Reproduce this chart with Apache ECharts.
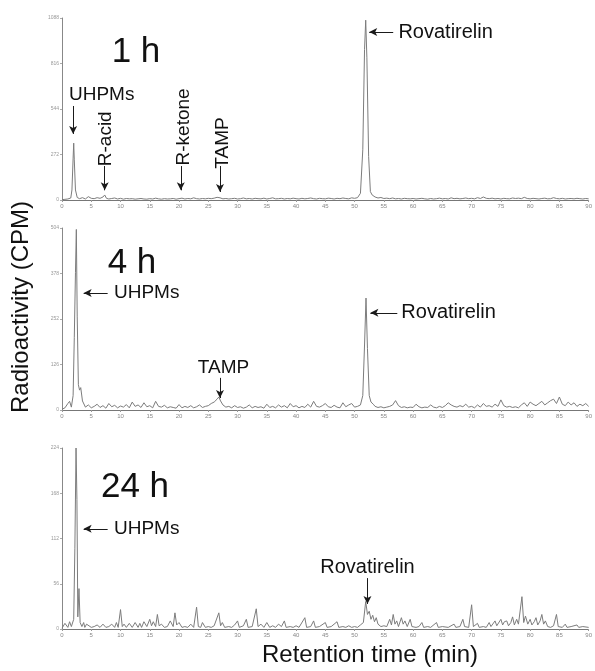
<!DOCTYPE html>
<html>
<head>
<meta charset="utf-8">
<script src="https://cdn.jsdelivr.net/npm/echarts@6/dist/echarts.min.js"></script>
<style>
html,body{margin:0;padding:0;background:#fff;}
#chart{width:595px;height:671px;}
</style>
</head>
<body>
<div id="chart"></div>
<script>
// Radio-HPLC chromatograms at three sampling times: [retention time (min), CPM]
const trace1h = [
[0,2],[0.5,4],[1,6],[1.5,12],[1.7,60],[1.9,250],[2.0,340],[2.1,240],[2.3,60],[2.6,15],[3,8],[3.5,14],[4,6],[4.5,20],[5,10],[5.5,8],[6,14],[6.5,10],[7,18],[7.3,30],[7.6,10],[8,6],[8.5,9],[9,12],[9.5,6],[10,10],[10.5,5],[11,9],[11.5,7],[12,8],[12.5,5],[13,7],[13.5,9],[14,6],[14.5,5],[15,8],[15.5,6],[16,11],[16.5,7],[17,5],[17.5,8],[18,6],[18.5,7],[19,9],[19.5,5],[20,8],[20.5,11],[21,6],[21.5,9],[22,7],[22.5,13],[23,8],[23.5,6],[24,9],[24.5,7],[25,10],[25.5,8],[26,11],[26.5,16],[27,13],[27.5,7],[28,9],[28.5,6],[29,8],[29.5,10],[30,6],[30.5,8],[31,12],[31.5,7],[32,9],[32.5,6],[33,10],[33.5,8],[34,7],[34.5,11],[35,6],[35.5,9],[36,13],[36.5,7],[37,8],[37.5,10],[38,6],[38.5,9],[39,7],[39.5,11],[40,8],[40.5,6],[41,10],[41.5,7],[42,9],[42.5,12],[43,8],[43.5,6],[44,10],[44.5,8],[45,7],[45.5,11],[46,9],[46.5,6],[47,10],[47.5,8],[48,12],[48.5,9],[49,7],[49.5,13],[50,10],[50.5,14],[51,40],[51.4,300],[51.7,900],[51.9,1075],[52.1,850],[52.4,260],[52.7,50],[53,30],[53.5,18],[54,12],[54.5,15],[55,9],[55.5,11],[56,8],[56.5,12],[57,7],[57.5,9],[58,6],[58.5,10],[59,8],[59.5,7],[60,9],[60.5,6],[61,8],[61.5,10],[62,7],[62.5,5],[63,9],[63.5,6],[64,8],[64.5,11],[65,7],[65.5,9],[66,6],[66.5,13],[67,8],[67.5,10],[68,7],[68.5,9],[69,12],[69.5,8],[70,10],[70.5,7],[71,14],[71.5,9],[72,18],[72.5,10],[73,8],[73.5,11],[74,7],[74.5,9],[75,6],[75.5,10],[76,8],[76.5,7],[77,12],[77.5,9],[78,11],[78.5,8],[79,16],[79.5,9],[80,7],[80.5,10],[81,8],[81.5,6],[82,9],[82.5,11],[83,7],[83.5,8],[84,14],[84.5,9],[85,7],[85.5,10],[86,6],[86.5,8],[87,9],[87.5,7],[88,10],[88.5,8],[89,6],[89.5,9],[90,7]
];
const trace4h = [
[0,2],[0.5,6],[1,18],[1.3,24],[1.6,8],[1.9,40],[2.1,200],[2.3,380],[2.45,500],[2.6,260],[2.8,70],[3.0,55],[3.2,62],[3.5,25],[4,8],[4.5,14],[5,6],[5.5,10],[6,16],[6.5,7],[7,12],[7.5,5],[8,18],[8.5,9],[9,13],[9.5,6],[10,11],[10.5,8],[11,15],[11.5,6],[12,22],[12.5,10],[13,14],[13.5,7],[14,20],[14.5,9],[15,12],[15.5,6],[16,24],[16.5,10],[17,8],[17.5,13],[18,6],[18.5,9],[19,7],[19.5,5],[20,15],[20.5,6],[21,10],[21.5,7],[22,12],[22.5,6],[23,9],[23.5,14],[24,7],[24.5,10],[25,12],[25.5,18],[26,22],[26.5,30],[26.8,36],[27.1,25],[27.5,14],[28,8],[28.5,10],[29,6],[29.5,12],[30,7],[30.5,9],[31,5],[31.5,8],[32,14],[32.5,6],[33,10],[33.5,7],[34,9],[34.5,5],[35,16],[35.5,7],[36,10],[36.5,6],[37,14],[37.5,8],[38,12],[38.5,6],[39,18],[39.5,9],[40,12],[40.5,6],[41,10],[41.5,7],[42,16],[42.5,8],[43,24],[43.5,10],[44,8],[44.5,12],[45,18],[45.5,9],[46,7],[46.5,13],[47,8],[47.5,6],[48,20],[48.5,9],[49,14],[49.5,18],[50,8],[50.5,10],[51,14],[51.4,40],[51.7,180],[51.95,310],[52.2,170],[52.5,40],[52.8,22],[53.2,16],[53.5,10],[54,7],[54.5,9],[55,6],[55.5,8],[56,10],[56.5,14],[57,26],[57.5,12],[58,7],[58.5,9],[59,6],[59.5,8],[60,7],[60.5,16],[61,9],[61.5,6],[62,8],[62.5,7],[63,14],[63.5,8],[64,6],[64.5,10],[65,7],[65.5,12],[66,20],[66.5,14],[67,10],[67.5,8],[68,12],[68.5,9],[69,16],[69.5,8],[70,10],[70.5,6],[71,14],[71.5,8],[72,18],[72.5,10],[73,12],[73.5,8],[74,16],[74.5,10],[75,28],[75.5,12],[76,8],[76.5,10],[77,7],[77.5,9],[78,6],[78.5,14],[79,20],[79.5,10],[80,22],[80.5,16],[81,12],[81.5,18],[82,24],[82.5,14],[83,20],[83.5,26],[84,30],[84.5,18],[85,36],[85.5,16],[86,12],[86.5,22],[87,14],[87.5,20],[88,10],[88.5,16],[89,12],[89.5,18],[90,10]
];
const trace24h = [
[0,1],[0.5,7],[1,2],[1.3,9],[1.6,3],[2.0,12],[2.2,100],[2.4,224],[2.55,160],[2.7,15],[2.9,50],[3.1,8],[3.4,3],[3.7,8],[3.9,2],[4.2,6],[4.5,7],[5,2],[5.5,3],[6,5],[6.5,2],[7,6],[7.5,2],[8,3],[8.5,6],[9,2],[9.3,8],[9.6,2],[10,24],[10.3,3],[10.6,6],[11,2],[11.5,7],[12,2],[12.5,8],[13,2],[13.3,7],[13.6,2],[14,9],[14.5,3],[15,12],[15.3,4],[15.6,9],[16,3],[16.3,18],[16.6,4],[17,6],[17.5,2],[18,3],[18.5,10],[19,3],[19.3,20],[19.6,5],[20,8],[20.5,2],[21,3],[21.5,2],[22,6],[22.5,2],[23,27],[23.3,3],[23.7,2],[24,8],[24.5,2],[25,3],[25.5,2],[26,4],[26.8,20],[27.1,4],[27.4,8],[27.8,2],[28.5,3],[29,2],[29.5,5],[30,10],[30.3,2],[31,4],[31.5,12],[31.8,2],[32.5,3],[33.2,25],[33.5,3],[34,6],[34.5,2],[35,8],[35.5,2],[36,4],[36.5,2],[37,6],[37.5,3],[38,10],[38.3,2],[39,3],[39.5,2],[40,4],[40.5,2],[41.5,14],[41.8,2],[42.5,3],[43,10],[43.3,2],[44,3],[45,8],[45.3,2],[46,3],[47,9],[47.3,2],[48,3],[48.5,2],[49,4],[49.5,2],[50,3],[50.5,2],[51,5],[51.5,8],[51.9,34],[52.2,18],[52.5,22],[52.8,12],[53.1,17],[53.4,9],[53.7,14],[54,6],[54.5,3],[55,4],[55.5,3],[56,12],[56.3,5],[56.6,18],[56.9,6],[57.2,10],[57.5,3],[58,14],[58.3,6],[58.6,10],[59,3],[59.5,12],[59.8,3],[60.5,2],[61,3],[61.5,8],[61.8,2],[62.5,3],[63,2],[64,8],[64.3,2],[65,3],[66,2],[67,6],[67.3,2],[68,3],[68.5,12],[68.8,3],[69.5,2],[70,30],[70.3,3],[71,7],[71.3,2],[72,3],[72.5,2],[73,8],[73.3,3],[74,10],[74.3,4],[75,12],[75.3,5],[75.6,9],[76,10],[76.3,4],[76.7,8],[77,15],[77.3,5],[77.7,12],[78,6],[78.6,40],[78.9,8],[79.2,16],[79.6,6],[80,12],[80.3,5],[80.7,9],[81,14],[81.3,5],[81.7,10],[82,18],[82.3,6],[82.6,10],[83,3],[83.5,2],[84,4],[84.5,18],[84.8,3],[85.5,2],[86,6],[86.3,2],[87,3],[88,5],[88.3,2],[89,3],[90,2]
];

// y-axis maxima (tick labels are quarters of these)
const yMax = [1088, 504, 224];
const panelNames = ['1 h', '4 h', '24 h'];
const xMin = 0, xMax = 90, xStep = 5;

const FONT = '"Liberation Sans", Arial, sans-serif';
const lineColor = '#7c7c7c';
const arrowColor = '#1a1a1a';

const grids = [
  {left: 62, right: 2, top: 18, height: 182},
  {left: 62, right: 2, top: 228, height: 182},
  {left: 62, right: 2, top: 448, height: 181}
];

function xAxisFor(i) {
  return {
    type: 'value', gridIndex: i, min: xMin, max: xMax, interval: xStep,
    axisLine: {show: true, onZero: false, lineStyle: {color: '#777', width: 1}},
    axisTick: {show: true, length: 2, lineStyle: {color: '#999'}},
    axisLabel: {fontSize: 6, color: '#888', margin: 3, fontFamily: FONT, showMaxLabel: true},
    splitLine: {show: false}
  };
}
function yAxisFor(i) {
  return {
    type: 'value', gridIndex: i, min: 0, max: yMax[i], interval: yMax[i] / 4,
    axisLine: {show: true, lineStyle: {color: '#888', width: 1}},
    axisTick: {show: true, length: 2, lineStyle: {color: '#aaa'}},
    axisLabel: {fontSize: 5, color: '#999', margin: 3, fontFamily: FONT, formatter: v => String(v)},
    splitLine: {show: false}
  };
}

// arrow helper: from [t1,v1] to [t2,v2] in data space
function arrow(a, b) {
  return [{coord: a, symbol: 'none'}, {coord: b, symbol: 'arrow'}];
}
// text label anchored at a data coordinate
function note(text, coord, opts) {
  return Object.assign({
    coord: coord, value: text, symbol: 'circle', symbolSize: 1,
    itemStyle: {color: 'rgba(0,0,0,0)'}
  }, opts || {});
}
const labelBase = {show: true, color: '#111', fontSize: 19, fontFamily: FONT, formatter: p => p.value};
const lab = o => ({label: Object.assign({}, labelBase, o)});

const arrows = [
  [arrow([1.9, 562], [1.9, 395]), arrow([7.3, 203], [7.3, 58]), arrow([20.3, 203], [20.3, 58]),
   arrow([27.0, 203], [27.0, 48]), arrow([56.6, 1004], [52.5, 1004])],
  [arrow([7.8, 324], [3.7, 324]), arrow([57.3, 269], [52.7, 269]), arrow([27.0, 89], [27.0, 33])],
  [arrow([7.8, 124], [3.7, 124]), arrow([52.2, 63], [52.2, 31])]
];
const notes = [
  [note('UHPMs', [1.1, 628], lab({position: 'right', distance: 0})),
   note('R-acid', [7.5, 366], lab({position: 'inside', rotate: 90})),
   note('R-ketone', [20.8, 437], lab({position: 'inside', rotate: 90})),
   note('TAMP', [27.5, 341], lab({position: 'inside', rotate: 90})),
   note('Rovatirelin', [57.4, 1004], lab({position: 'right', distance: 0, fontSize: 20}))],
  [note('UHPMs', [8.8, 324], lab({position: 'right', distance: 0})),
   note('Rovatirelin', [57.9, 269], lab({position: 'right', distance: 0, fontSize: 20})),
   note('TAMP', [27.6, 116], lab({position: 'inside'}))],
  [note('UHPMs', [8.8, 124], lab({position: 'right', distance: 0})),
   note('Rovatirelin', [52.2, 76], lab({position: 'inside', fontSize: 20}))]
];

const traces = [trace1h, trace4h, trace24h];
const series = traces.map((d, i) => ({
  type: 'line', xAxisIndex: i, yAxisIndex: i, data: d,
  symbol: 'none', lineStyle: {color: lineColor, width: 1}, silent: true,
  markLine: {
    silent: true, symbolSize: [6, 8], animation: false,
    lineStyle: {color: arrowColor, width: 1, type: 'solid'},
    label: {show: false}, data: arrows[i]
  },
  markPoint: {silent: true, animation: false, data: notes[i]}
}));

// panel captions and axis titles
const titleY = [52, 263, 487];
const titleX = [136, 132, 135];
const graphic = panelNames.map((n, i) => ({
  type: 'text', x: titleX[i], y: titleY[i], silent: true,
  style: {text: n, fontSize: 35, fontFamily: FONT, fill: '#111', align: 'center', verticalAlign: 'middle'}
}));
graphic.push({
  type: 'text', x: 21, y: 307, rotation: Math.PI / 2, silent: true,
  style: {text: 'Radioactivity (CPM)', fontSize: 24, fontFamily: FONT, fill: '#111', align: 'center', verticalAlign: 'middle'}
});
graphic.push({
  type: 'text', x: 370, y: 655, silent: true,
  style: {text: 'Retention time (min)', fontSize: 24, fontFamily: FONT, fill: '#111', align: 'center', verticalAlign: 'middle'}
});

const chart = echarts.init(document.getElementById('chart'), null, {renderer: 'canvas'});
chart.setOption({
  animation: false,
  backgroundColor: '#fff',
  grid: grids,
  xAxis: [0, 1, 2].map(xAxisFor),
  yAxis: [0, 1, 2].map(yAxisFor),
  series: series,
  graphic: graphic
});
</script>
</body>
</html>
